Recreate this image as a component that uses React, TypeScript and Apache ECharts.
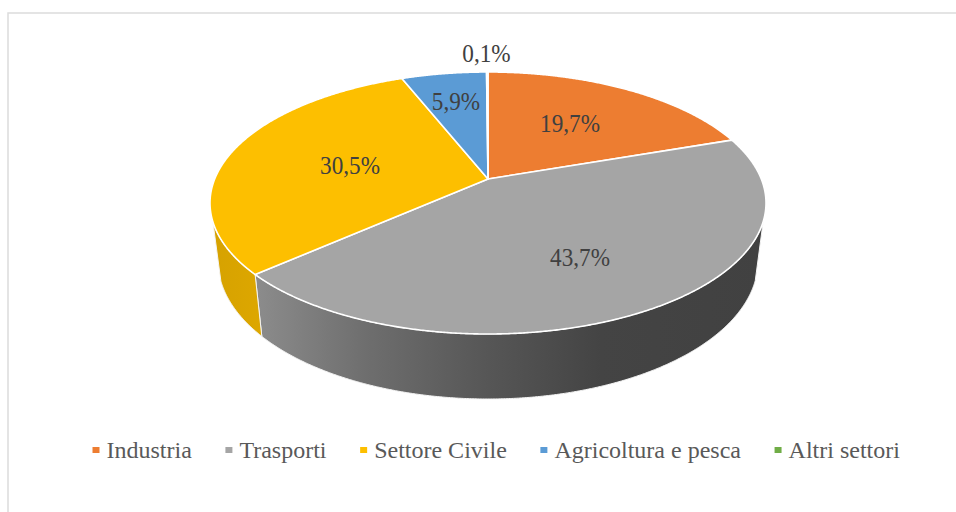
import React, { useEffect, useRef } from "react";
import * as echarts from "echarts";

const categories = ["Industria", "Trasporti", "Settore Civile", "Agricoltura e pesca", "Altri settori"];
const shares = [19.7, 43.7, 30.5, 5.9, 0.1];
const topColors = ["#ED7D31", "#A5A5A5", "#FDBF00", "#5B9BD5", "#70AD47"];

const wallStyles: any[] = [
  "#BE6427",
  new echarts.graphic.LinearGradient(0, 0, 1, 0, [
    { offset: 0, color: "#8C8C8C" },
    { offset: 0.22, color: "#6E6E6E" },
    { offset: 0.46, color: "#565656" },
    { offset: 0.68, color: "#444444" },
    { offset: 1, color: "#414141" },
  ]),
  new echarts.graphic.LinearGradient(0, 0, 1, 0, [
    { offset: 0, color: "#D6A200" },
    { offset: 1, color: "#DDA700" },
  ]),
  "#497CAA",
  "#5A8A39",
];

// Layout: centres of the percentage labels, and the two rim ellipses of the disc
const labelCenters = [
  [570, 123.5],
  [580, 257],
  [350, 165],
  [456, 101],
  [486.5, 53.5],
];
const topRim = { cx: 488, cy: 203, rx: 278, ry: 131 };
const bottomRim = { cx: 488, cy: 261, rx: 270, ry: 138 };
const apex = { x: 488, y: 179 };
const wallStartY = 0.14;

const total = shares.reduce((a, b) => a + b, 0);
const Y0 = (apex.y - topRim.cy) / topRim.ry;

function unit(t: number) {
  const u = Math.sin(t);
  const v = -Math.cos(t);
  const den = 1 + Y0 * v;
  return [(u * Math.sqrt(1 - Y0 * Y0)) / den, (v + Y0) / den];
}
function onRim(p: number[], rim: typeof topRim) {
  return [rim.cx + p[0] * rim.rx, rim.cy + p[1] * rim.ry];
}
function sweep(a0: number, a1: number) {
  const n = Math.max(2, Math.ceil((a1 - a0) / 0.005));
  const out: number[][] = [];
  for (let i = 0; i <= n; i++) out.push(unit(a0 + ((a1 - a0) * i) / n));
  return out;
}

function makeRenderItem(index: number) {
  return (_params: any, api: any) => {
    const value = api.value(0);
    const before = shares.slice(0, index).reduce((a, b) => a + b, 0);
    const a0 = (before / total) * Math.PI * 2;
    const a1 = ((before + value) / total) * Math.PI * 2;
    const pts = sweep(a0, a1);
    const children: any[] = [];

    const front = pts.filter((p) => p[1] >= wallStartY);
    if (front.length > 1) {
      const wall = [
        ...front.map((p) => onRim(p, topRim)),
        ...front.slice().reverse().map((p) => onRim(p, bottomRim)),
      ];
      children.push({
        type: "polygon",
        z2: 1,
        shape: { points: wall },
        style: { fill: wallStyles[index], stroke: "#F4F4F4", lineWidth: 1, lineJoin: "round" },
      });
    }
    children.push({
      type: "polygon",
      z2: 10,
      shape: { points: [[apex.x, apex.y], ...pts.map((p) => onRim(p, topRim))] },
      style: { fill: topColors[index], stroke: "#FFFFFF", lineWidth: 1.6, lineJoin: "round" },
    });
    children.push({
      type: "text",
      z2: 20,
      x: labelCenters[index][0],
      y: labelCenters[index][1],
      scaleY: 1.08,
      style: {
        text: value.toFixed(1).replace(".", ",") + "%",
        fill: "#404040",
        font: '23.2px "Liberation Serif"',
        align: "center",
        verticalAlign: "middle",
      },
    });
    return { type: "group", children };
  };
}

export default function App() {
  const ref = useRef<HTMLDivElement>(null);
  useEffect(() => {
    const chart = echarts.init(ref.current!, null, { renderer: "svg" });
    chart.setOption({
      animation: false,
      backgroundColor: "#FFFFFF",
      graphic: [
        {
          type: "polyline",
          silent: true,
          shape: { points: [[8, 512], [8, 13], [956, 13]] },
          style: { fill: "none", stroke: "#DCDCDC", lineWidth: 1.5 },
        },
      ],
      legend: {
        left: 92.5,
        top: 438,
        padding: 0,
        itemWidth: 7,
        itemHeight: 6,
        itemGap: 33.6,
        icon: "rect",
        selectedMode: false,
        textStyle: { fontFamily: "Liberation Serif", fontSize: 24, color: "#595959", padding: [0, 0, 0, 2] },
        data: categories.map((name, i) => ({ name, itemStyle: { color: topColors[i] } })),
      },
      series: categories.map((name, i) => ({
        type: "custom",
        name,
        coordinateSystem: "none",
        silent: true,
        itemStyle: { color: topColors[i] },
        data: [[shares[i]]],
        renderItem: makeRenderItem(i),
      })),
    });
    return () => chart.dispose();
  }, []);
  return <div ref={ref} style={{ position: "absolute", left: 0, top: 0, width: 956, height: 512 }} />;
}
